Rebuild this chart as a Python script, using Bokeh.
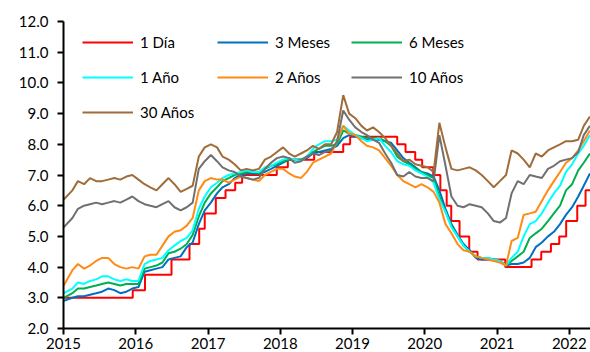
from datetime import datetime
import pandas as pd
from bokeh.plotting import figure
from bokeh.models import (ColumnDataSource, Range1d, FixedTicker, DatetimeTickFormatter,
                          PrintfTickFormatter, Legend, LegendItem)
from bokeh.embed import file_html
from bokeh.resources import INLINE

# ---------------- data (monthly readings, Jan 2015 .. Apr 2022) ----------------
n_months = 88
month_dates = [datetime(2015 + i // 12, i % 12 + 1, 15) for i in range(n_months)]
month_dates[0] = datetime(2015, 1, 2)

tasa_3m = [
    2.90, 3.00, 3.05, 3.05, 3.10, 3.15, 3.20, 3.30, 3.25, 3.15, 3.20, 3.30,
    3.35, 3.85, 3.90, 3.95, 4.00, 4.25, 4.30, 4.35, 4.65, 4.80, 5.40, 5.85,
    6.10, 6.40, 6.60, 6.70, 6.90, 7.00, 7.05, 7.05, 7.05, 7.10, 7.20, 7.30,
    7.40, 7.50, 7.50, 7.50, 7.55, 7.70, 7.75, 7.80, 7.85, 7.95, 8.20, 8.30,
    8.25, 8.20, 8.15, 8.15, 8.15, 8.10, 8.05, 7.80, 7.55, 7.40, 7.25, 7.10,
    7.05, 6.95, 6.50, 5.90, 5.40, 5.05, 4.75, 4.55, 4.30, 4.25, 4.25, 4.25,
    4.20, 4.05, 4.10, 4.10, 4.15, 4.30, 4.65, 4.80, 5.00, 5.15, 5.40, 5.70,
    5.95, 6.30, 6.65, 7.05]

tasa_6m = [
    3.00, 3.15, 3.30, 3.30, 3.35, 3.40, 3.45, 3.50, 3.45, 3.40, 3.45, 3.45,
    3.45, 3.95, 4.00, 4.05, 4.15, 4.45, 4.50, 4.60, 4.75, 5.05, 5.65, 6.10,
    6.40, 6.60, 6.80, 6.90, 7.00, 7.05, 7.10, 7.10, 7.05, 7.20, 7.30, 7.35,
    7.45, 7.50, 7.50, 7.50, 7.60, 7.75, 7.85, 7.95, 7.95, 8.00, 8.45, 8.35,
    8.30, 8.25, 8.20, 8.20, 8.20, 8.10, 7.95, 7.60, 7.45, 7.35, 7.20, 7.10,
    7.00, 6.90, 6.30, 5.80, 5.35, 5.00, 4.70, 4.50, 4.35, 4.30, 4.30, 4.25,
    4.20, 4.05, 4.20, 4.35, 4.50, 4.95, 5.10, 5.25, 5.50, 5.75, 6.00, 6.50,
    6.70, 7.15, 7.40, 7.70]

tasa_1a = [
    3.15, 3.30, 3.50, 3.45, 3.55, 3.60, 3.70, 3.70, 3.60, 3.55, 3.60, 3.55,
    3.55, 4.10, 4.20, 4.25, 4.30, 4.55, 4.70, 4.85, 4.95, 5.20, 5.90, 6.30,
    6.60, 6.75, 6.90, 7.00, 7.05, 7.10, 7.15, 7.10, 7.10, 7.25, 7.30, 7.40,
    7.50, 7.55, 7.50, 7.45, 7.60, 7.85, 8.00, 8.10, 8.10, 8.15, 8.60, 8.45,
    8.30, 8.20, 8.10, 8.15, 8.20, 7.95, 7.75, 7.45, 7.35, 7.30, 7.15, 7.05,
    6.95, 6.75, 6.20, 5.80, 5.30, 5.00, 4.70, 4.50, 4.35, 4.30, 4.30, 4.25,
    4.20, 4.05, 4.30, 4.50, 5.00, 5.40, 5.50, 5.75, 6.10, 6.40, 6.65, 7.10,
    7.35, 7.70, 7.95, 8.30]

tasa_2a = [
    3.40, 3.90, 4.10, 3.95, 4.05, 4.20, 4.30, 4.30, 4.10, 4.00, 3.95, 4.00,
    3.95, 4.35, 4.40, 4.40, 4.70, 5.00, 5.15, 5.20, 5.35, 5.60, 6.50, 6.80,
    6.90, 6.85, 6.85, 6.75, 6.85, 6.95, 6.90, 6.85, 6.80, 7.00, 7.10, 7.20,
    7.20, 7.05, 6.95, 6.90, 7.10, 7.40, 7.50, 7.60, 7.70, 8.10, 8.60, 8.35,
    8.30, 8.10, 7.95, 7.90, 7.80, 7.55, 7.30, 7.00, 6.80, 6.70, 6.60, 6.70,
    6.60, 6.45, 6.10, 5.40, 5.10, 4.75, 4.55, 4.50, 4.35, 4.30, 4.25, 4.20,
    4.15, 4.05, 4.85, 4.95, 5.70, 5.75, 5.80, 6.15, 6.50, 6.80, 7.10, 7.40,
    7.55, 7.80, 8.10, 8.45]

tasa_10a = [
    5.30, 5.60, 5.90, 6.00, 6.05, 6.10, 6.05, 6.10, 6.15, 6.10, 6.20, 6.30,
    6.15, 6.05, 6.00, 5.95, 6.05, 6.15, 5.95, 5.85, 5.95, 6.10, 7.20, 7.45,
    7.65, 7.45, 7.25, 7.15, 7.10, 6.95, 6.90, 6.85, 6.90, 7.20, 7.40, 7.55,
    7.60, 7.55, 7.40, 7.45, 7.60, 7.70, 7.65, 7.75, 7.80, 8.10, 9.10, 8.80,
    8.55, 8.40, 8.30, 8.15, 8.05, 7.70, 7.40, 7.00, 6.95, 7.10, 6.95, 6.90,
    6.90, 6.80, 8.30, 7.30, 6.30, 6.00, 5.95, 6.05, 6.00, 5.95, 5.75, 5.50,
    5.45, 5.60, 6.40, 6.80, 6.70, 7.00, 6.95, 6.90, 7.20, 7.30, 7.45, 7.50,
    7.55, 7.75, 8.30, 8.60]

tasa_30a = [
    6.20, 6.50, 6.80, 6.70, 6.90, 6.80, 6.80, 6.85, 6.90, 6.85, 6.95, 7.00,
    6.85, 6.70, 6.60, 6.50, 6.70, 6.90, 6.70, 6.45, 6.55, 6.65, 7.60, 7.90,
    8.00, 7.90, 7.60, 7.50, 7.35, 7.15, 7.20, 7.15, 7.20, 7.50, 7.60, 7.75,
    7.90, 7.70, 7.60, 7.70, 7.80, 7.95, 7.85, 8.00, 8.00, 8.40, 9.60, 9.00,
    8.85, 8.60, 8.45, 8.55, 8.40, 8.20, 7.95, 7.70, 7.45, 7.50, 7.35, 7.30,
    7.25, 7.10, 8.70, 7.90, 7.20, 7.15, 7.20, 7.25, 7.15, 7.00, 6.80, 6.60,
    6.80, 7.00, 7.80, 7.70, 7.50, 7.25, 7.70, 7.60, 7.80, 7.90, 8.00, 8.10,
    8.10, 8.15, 8.60, 8.90]

# overnight (1 Día) step changes
fondeo_fechas = ["2015-01-01", "2015-12-17", "2016-02-17", "2016-06-30", "2016-09-29",
                 "2016-11-17", "2016-12-15", "2017-02-09", "2017-03-30", "2017-05-18",
                 "2017-06-22", "2017-12-14", "2018-02-08", "2018-06-21", "2018-11-15",
                 "2018-12-20", "2019-08-15", "2019-09-26", "2019-11-14", "2019-12-19",
                 "2020-02-13", "2020-03-20", "2020-04-21", "2020-05-14", "2020-06-25",
                 "2020-08-13", "2020-09-24", "2021-02-11", "2021-06-24", "2021-08-12",
                 "2021-09-30", "2021-11-11", "2021-12-16", "2022-02-10", "2022-03-24",
                 "2022-04-18"]
fondeo_tasa = [3.00, 3.25, 3.75, 4.25, 4.75, 5.25, 5.75, 6.25, 6.50, 6.75,
               7.00, 7.25, 7.50, 7.75, 8.00, 8.25, 8.00, 7.75, 7.50, 7.25,
               7.00, 6.50, 6.00, 5.50, 5.00, 4.50, 4.25, 4.00, 4.25, 4.50,
               4.75, 5.00, 5.50, 6.00, 6.50, 6.50]

year_ticks = [2015, 2016, 2017, 2018, 2019, 2020, 2021, 2022]
y_ticks = [2, 3, 4, 5, 6, 7, 8, 9, 10, 11, 12]

# ---------------- figure ----------------
FONT = "Lato"
p = figure(width=590, height=352, output_backend="svg", toolbar_location=None,
           x_axis_type="datetime",
           x_range=Range1d(datetime(2015, 1, 1), datetime(2022, 4, 18)),
           y_range=Range1d(2, 12),
           frame_width=527, frame_height=307,
           min_border_left=63, min_border_right=0, min_border_top=21, min_border_bottom=0)
p.outline_line_color = None
p.xgrid.visible = False
p.ygrid.visible = False
p.background_fill_color = "white"
p.border_fill_color = "white"

src = ColumnDataSource(dict(x=month_dates, m3=tasa_3m, m6=tasa_6m, a1=tasa_1a,
                            a2=tasa_2a, a10=tasa_10a, a30=tasa_30a))
fsrc = ColumnDataSource(dict(x=pd.to_datetime(fondeo_fechas), y=fondeo_tasa))

lw = 2
r_1d = p.step("x", "y", source=fsrc, mode="after", line_color="#FF0000", line_width=lw)
r_3m = p.line("x", "m3", source=src, line_color="#0070C0", line_width=lw)
r_6m = p.line("x", "m6", source=src, line_color="#00B050", line_width=lw)
r_1a = p.line("x", "a1", source=src, line_color="#00FFFF", line_width=lw)
r_2a = p.line("x", "a2", source=src, line_color="#FF8A14", line_width=lw)
r_10a = p.line("x", "a10", source=src, line_color="#707070", line_width=lw)
r_30a = p.line("x", "a30", source=src, line_color="#A06C3A", line_width=lw)

# axes
p.xaxis.ticker = FixedTicker(ticks=[datetime(y, 1, 1).timestamp() * 1000 for y in year_ticks])
p.xaxis.formatter = DatetimeTickFormatter(years="%Y", months="%Y", days="%Y", hours="%Y",
                                          minutes="%Y", seconds="%Y", milliseconds="%Y")
p.yaxis.ticker = FixedTicker(ticks=y_ticks)
p.yaxis.formatter = PrintfTickFormatter(format="%.1f")
for ax in (p.xaxis, p.yaxis):
    ax.axis_line_width = 2
    ax.axis_line_color = "black"
    ax.major_tick_line_width = 2
    ax.major_tick_line_color = "black"
    ax.major_tick_in = 0
    ax.major_tick_out = 6
    ax.minor_tick_line_color = None
    ax.major_label_text_font = FONT
    ax.major_label_text_font_size = "15px"
    ax.major_label_text_color = "black"
p.yaxis.major_label_standoff = 9
p.xaxis.major_label_standoff = 3

# legends: three columns
def make_legend(items, vx, vy):
    lg = Legend(items=items, location=(vx, vy), orientation="vertical",
                glyph_width=51, glyph_height=20, label_height=20,
                label_standoff=7, spacing=15, padding=0, margin=0,
                border_line_alpha=0, background_fill_alpha=0,
                label_text_font=FONT, label_text_font_size="15px",
                label_text_color="black")
    p.add_layout(lg, "center")

make_legend([LegendItem(label="1 Día", renderers=[r_1d]),
             LegendItem(label="1 Año", renderers=[r_1a]),
             LegendItem(label="30 Años", renderers=[r_30a])], 19, 206)
make_legend([LegendItem(label="3 Meses", renderers=[r_3m]),
             LegendItem(label="2 Años", renderers=[r_2a])], 154, 241)
make_legend([LegendItem(label="6 Meses", renderers=[r_6m]),
             LegendItem(label="10 Años", renderers=[r_10a])], 288, 241)

open("out.html", "w").write(file_html(p, INLINE))
